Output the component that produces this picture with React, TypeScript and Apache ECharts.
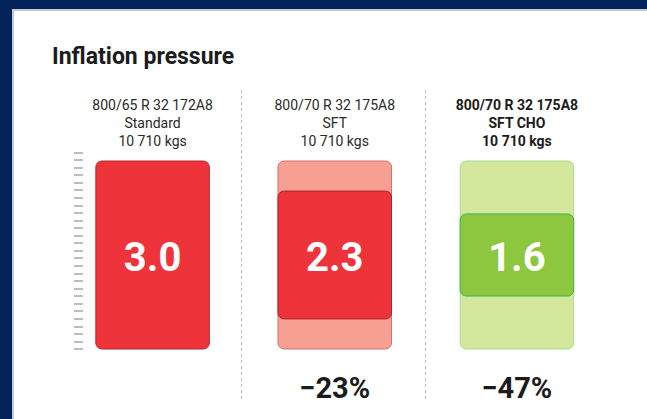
import React, { useEffect, useRef } from "react";
import * as echarts from "echarts";

const tyreSizes = ["800/65 R 32 172A8", "800/70 R 32 175A8", "800/70 R 32 175A8"];
const tyreTypes = ["Standard", "SFT", "SFT CHO"];
const loads = ["10 710 kgs", "10 710 kgs", "10 710 kgs"];
const pressures = [3.0, 2.3, 1.6];
// drawn heights of the pressure boxes, in the same units as the 3.0 reference box
const pressureBoxHeights = [3.0, 2.04, 1.31];
// faint reference box (standard tyre's 3.0) behind columns 2 and 3
const referenceBoxHeights: (number | null)[] = [null, 3.0, 3.0];
const changes = ["", "−23%", "−47%"];
const rulerSteps = 26;

const mainFill = ["#ef333a", "#ef333a", "#8dc63f"];
const mainStroke = ["#b0292e", "#a8262b", "#3db54b"];
const refFill = ["", "#f7a092", "#d4e89d"];
const refStroke = ["", "#d0736a", "#a5dc92"];

const FONT = "Roboto, 'Noto Sans', sans-serif";
const AXIS_MAX = 3;
const MID = AXIS_MAX / 2;
const BOX_RATIO = 0.623;

function boxRect(api: any, idx: number, h: number) {
  const top = api.coord([idx, MID + h / 2]);
  const bottom = api.coord([idx, MID - h / 2]);
  const bw = api.size([1, 0])[0] * BOX_RATIO;
  return { x: top[0] - bw / 2, y: top[1], width: bw, height: bottom[1] - top[1], r: 6 };
}

export default function App() {
  const ref = useRef<HTMLDivElement>(null);
  useEffect(() => {
    document.body.style.margin = "0";
    const chart = echarts.init(ref.current!, null, { renderer: "svg" });
    const headerData = tyreSizes.map((s, i) => i);
    chart.setOption({
      animation: false,
      backgroundColor: "#03215a",
      graphic: [
        { type: "rect", z: -10, shape: { x: 12, y: 9, width: 700, height: 500 }, style: { fill: "#c3cad6" } },
        { type: "rect", z: -9, shape: { x: 14, y: 11, width: 700, height: 500 }, style: { fill: "#ffffff" } },
        {
          type: "text", x: 52, y: 45, z: 5,
          style: { text: "Inflation pressure", fill: "#1b1b1b", font: `bold 23px ${FONT}` },
        },
        {
          type: "line", z: 1, shape: { x1: 241.5, y1: 90, x2: 241.5, y2: 400 },
          style: { stroke: "#bdbdbd", lineWidth: 1, lineDash: [3, 3] },
        },
        {
          type: "line", z: 1, shape: { x1: 425.5, y1: 90, x2: 425.5, y2: 400 },
          style: { stroke: "#bdbdbd", lineWidth: 1, lineDash: [3, 3] },
        },
      ],
      grid: [
        { left: 61.5, right: 39, top: 161, bottom: 70 },
        { left: 83, width: 10, top: 152.3, height: 196.7 },
      ],
      xAxis: [
        {
          type: "category", gridIndex: 0, position: "top", data: headerData,
          axisLine: { show: false }, axisTick: { show: false }, splitLine: { show: false },
          axisLabel: {
            margin: 11,
            interval: 0,
            formatter: (_v: any, i: number) => {
              const k = i === 2 ? "b" : "n";
              return [tyreSizes[i], tyreTypes[i], loads[i]].map((t) => `{${k}|${t}}`).join("\n");
            },
            rich: {
              n: { fontFamily: FONT, fontSize: 14, color: "#2a2a2a", lineHeight: 18, align: "center" },
              b: { fontFamily: FONT, fontSize: 14, fontWeight: "bold", color: "#1b1b1b", lineHeight: 18, align: "center" },
            },
          },
        },
        {
          type: "category", gridIndex: 0, position: "bottom", data: headerData,
          axisLine: { show: false }, axisTick: { show: false }, splitLine: { show: false },
          axisLabel: {
            margin: 24, interval: 0,
            formatter: (_v: any, i: number) => changes[i],
            fontFamily: FONT, fontSize: 29, fontWeight: "bold", color: "#1b1b1b", lineHeight: 30,
          },
        },
        { type: "value", gridIndex: 1, show: false },
      ],
      yAxis: [
        { type: "value", gridIndex: 0, min: 0, max: AXIS_MAX, show: false },
        {
          type: "value", gridIndex: 1, min: 0, max: rulerSteps, interval: 1,
          axisLine: { show: false },
          axisLabel: { show: false },
          splitLine: { show: false },
          axisTick: { show: true, length: 9, lineStyle: { color: "#a9a9a9", width: 1.5 } },
        },
      ],
      series: [
        {
          type: "custom", xAxisIndex: 0, yAxisIndex: 0, z: 2,
          data: referenceBoxHeights.map((h, i) => (h == null ? null : [i, h])).filter((d) => d),
          renderItem: (_p: any, api: any) => {
            const i = api.value(0);
            return {
              type: "rect",
              shape: boxRect(api, i, api.value(1)),
              style: { fill: refFill[i], stroke: refStroke[i], lineWidth: 1 },
            };
          },
        },
        {
          type: "custom", xAxisIndex: 0, yAxisIndex: 0, z: 3,
          data: pressureBoxHeights.map((h, i) => [i, h, pressures[i]]),
          renderItem: (_p: any, api: any) => {
            const i = api.value(0);
            const r = boxRect(api, i, api.value(1));
            return {
              type: "group",
              children: [
                {
                  type: "rect", shape: r,
                  style: { fill: mainFill[i], stroke: mainStroke[i], lineWidth: 1 },
                },
                {
                  type: "text",
                  x: r.x + r.width / 2, y: r.y + r.height / 2 + 2,
                  style: {
                    text: Number(api.value(2)).toFixed(1),
                    fill: "#ffffff",
                    font: `bold 40px ${FONT}`,
                    align: "center", verticalAlign: "middle",
                  },
                },
              ],
            };
          },
        },
      ],
    });
    return () => chart.dispose();
  }, []);
  return <div ref={ref} style={{ position: "fixed", left: 0, top: 0, width: 647, height: 419 }} />;
}
